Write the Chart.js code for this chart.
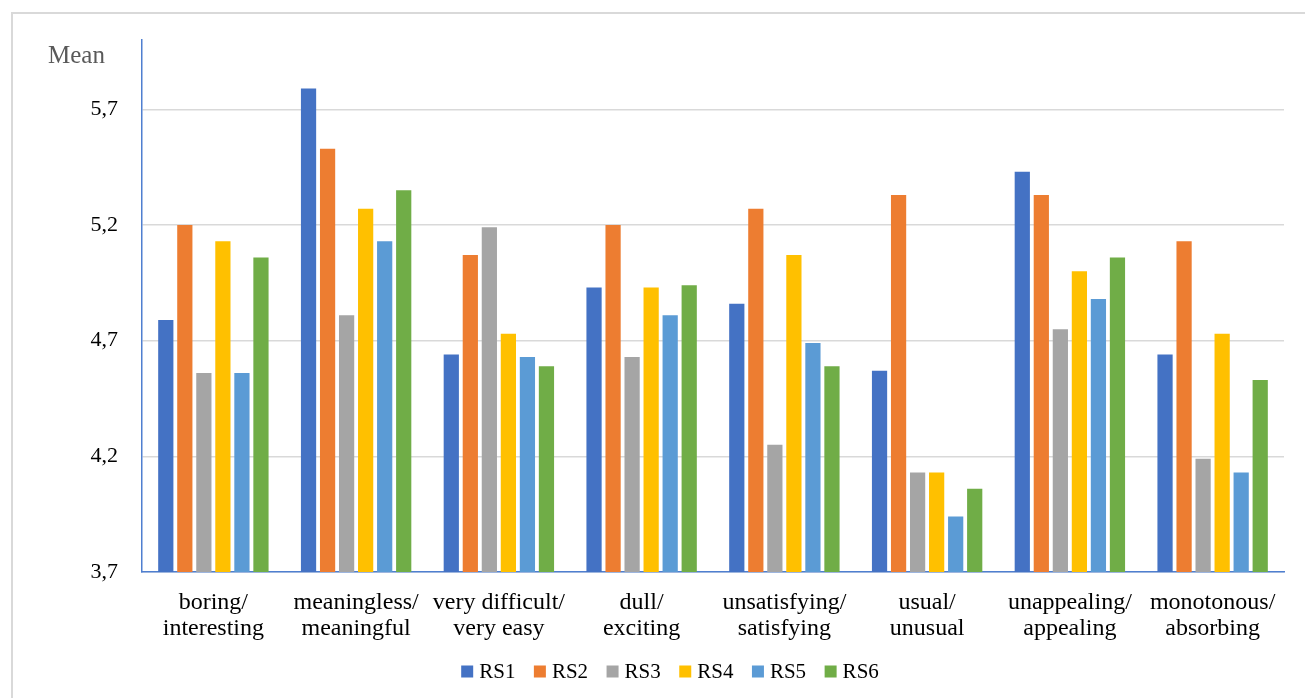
<!DOCTYPE html>
<html>
<head>
<meta charset="utf-8">
<title>Mean ratings RS1–RS6</title>
<script src="https://cdn.jsdelivr.net/npm/chart.js@4/dist/chart.umd.min.js"></script>
<style>
  html, body { margin: 0; padding: 0; background: #ffffff; }
  #wrap { position: relative; width: 1305px; height: 698px; overflow: hidden; }
  canvas { display: block; }
</style>
</head>
<body>
<div id="wrap"><canvas id="chart" width="1305" height="698"></canvas></div>
<script>
// Semantic-differential item pairs (x categories)
const categories = [
  ['boring/', 'interesting'],
  ['meaningless/', 'meaningful'],
  ['very difficult/', 'very easy'],
  ['dull/', 'exciting'],
  ['unsatisfying/', 'satisfying'],
  ['usual/', 'unusual'],
  ['unappealing/', 'appealing'],
  ['monotonous/', 'absorbing']
];

// Mean rating per item for each rating set
const rs1 = [4.79, 5.79, 4.64, 4.93, 4.86, 4.57, 5.43, 4.64];
const rs2 = [5.20, 5.53, 5.07, 5.20, 5.27, 5.33, 5.33, 5.13];
const rs3 = [4.56, 4.81, 5.19, 4.63, 4.25, 4.13, 4.75, 4.19];
const rs4 = [5.13, 5.27, 4.73, 4.93, 5.07, 4.13, 5.00, 4.73];
const rs5 = [4.56, 5.13, 4.63, 4.81, 4.69, 3.94, 4.88, 4.13];
const rs6 = [5.06, 5.35, 4.59, 4.94, 4.59, 4.06, 5.06, 4.53];

const seriesNames = ['RS1', 'RS2', 'RS3', 'RS4', 'RS5', 'RS6'];
const yTicks = [3.7, 4.2, 4.7, 5.2, 5.7];
const yAxisTitle = 'Mean';

const palette = ['#4472C4', '#ED7D31', '#A5A5A5', '#FFC000', '#5B9BD5', '#70AD47'];
const seriesValues = [rs1, rs2, rs3, rs4, rs5, rs6];

const FONT = "'Liberation Serif', 'Times New Roman', serif";
Chart.defaults.font.family = FONT;
Chart.defaults.color = '#000000';

// Light frame around the chart, the "Mean" caption and a centred legend
const decorations = {
  id: 'decorations',
  beforeDraw(chart) {
    const ctx = chart.ctx;
    ctx.save();
    ctx.fillStyle = '#ffffff';
    ctx.fillRect(0, 0, chart.width, chart.height);
    ctx.strokeStyle = '#d9d9d9';
    ctx.lineWidth = 2;
    ctx.beginPath();
    ctx.moveTo(12, chart.height + 2);
    ctx.lineTo(12, 13);
    ctx.lineTo(chart.width + 2, 13);
    ctx.stroke();
    ctx.restore();
  },
  afterDraw(chart) {
    const ctx = chart.ctx;
    ctx.save();
    // axis caption
    ctx.font = '25px ' + FONT;
    ctx.fillStyle = '#595959';
    ctx.textAlign = 'left';
    ctx.textBaseline = 'alphabetic';
    ctx.fillText(yAxisTitle, 48, 63);

    // legend
    const box = 12, gap = 6, spacing = 18.5, cy = 671.5, centre = 670;
    ctx.font = '21px ' + FONT;
    const items = chart.data.datasets.map(ds => ({
      label: ds.label, color: ds.backgroundColor,
      w: box + gap + ctx.measureText(ds.label).width
    }));
    const total = items.reduce((s, it) => s + it.w, 0) + spacing * (items.length - 1);
    let x = centre - total / 2;
    ctx.textBaseline = 'middle';
    ctx.fillStyle = '#000000';
    items.forEach(it => {
      ctx.fillStyle = it.color;
      ctx.fillRect(x, cy - box / 2, box, box);
      ctx.fillStyle = '#000000';
      ctx.fillText(it.label, x + box + gap, cy + 1);
      x += it.w + spacing;
    });
    ctx.restore();
  }
};

new Chart(document.getElementById('chart'), {
  type: 'bar',
  data: {
    labels: categories,
    datasets: seriesNames.map((name, i) => ({
      label: name,
      data: seriesValues[i],
      backgroundColor: palette[i],
      borderWidth: 0,
      categoryPercentage: 0.8,
      barPercentage: 0.8
    }))
  },
  options: {
    responsive: false,
    animation: false,
    devicePixelRatio: 1,
    layout: { padding: { top: 40, right: 21, bottom: 0, left: 0 } },
    plugins: {
      legend: { display: false },
      tooltip: { enabled: false },
      title: { display: false }
    },
    scales: {
      x: {
        grid: { display: false, drawTicks: false },
        border: { display: true, color: '#4f7fd0', width: 1.5 },
        ticks: {
          font: { size: 24, lineHeight: 1.11 },
          color: '#000000',
          padding: 17,
          maxRotation: 0,
          autoSkip: false
        },
        afterFit(scale) { scale.height = 126; }
      },
      y: {
        min: 3.7,
        max: 6.0,
        afterBuildTicks(scale) { scale.ticks = yTicks.map(v => ({ value: v })); },
        grid: { color: '#d9d9d9', lineWidth: 1.5, drawTicks: false },
        border: { display: true, color: '#4f7fd0', width: 1.5 },
        ticks: {
          font: { size: 22 },
          color: '#000000',
          padding: 24,
          callback: v => Number(v).toFixed(1).replace('.', ',')
        },
        afterFit(scale) { scale.width = 142; }
      }
    }
  },
  plugins: [decorations]
});
</script>
</body>
</html>
